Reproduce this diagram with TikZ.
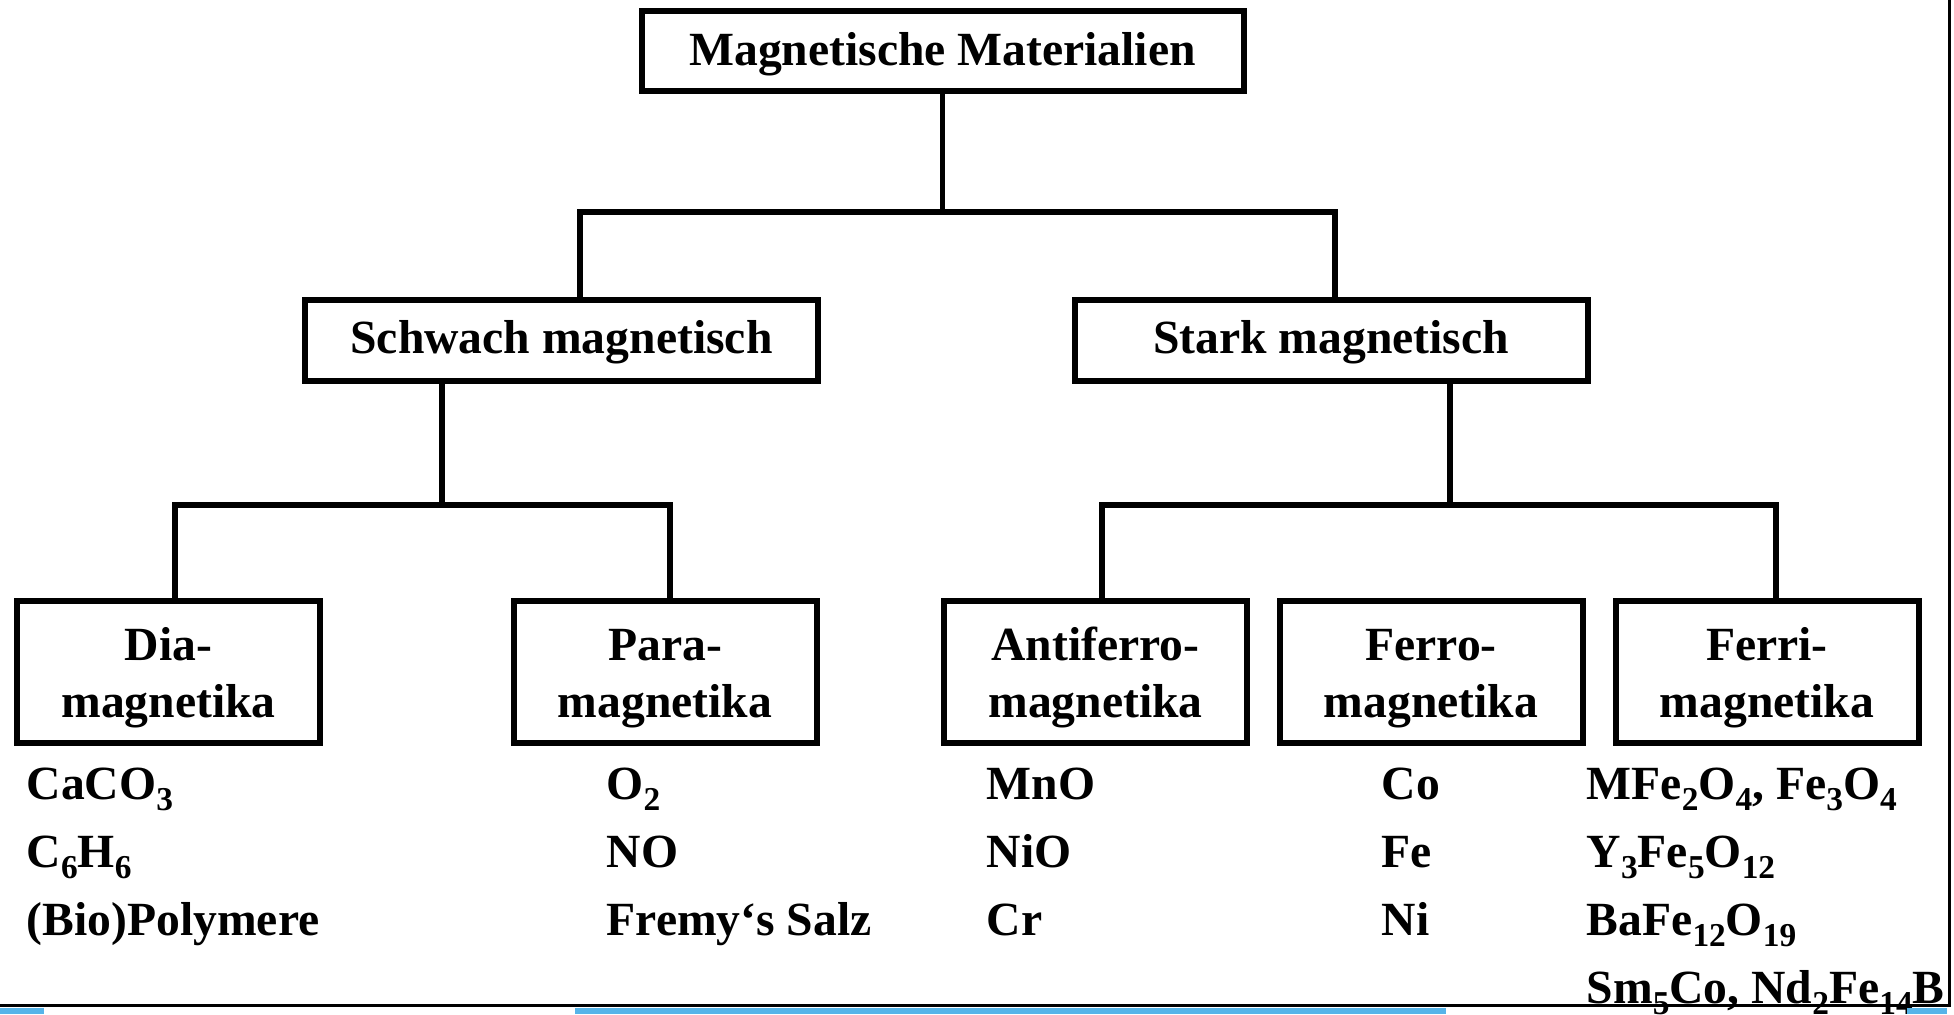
\documentclass[tikz,border=0pt]{standalone}
\usepackage{fontspec}
\setmainfont{Liberation Serif}
\usetikzlibrary{positioning}
\definecolor{stripblue}{RGB}{86,180,233}
\newcommand{\chemsub}[1]{\raisebox{-0.25em}{\fontsize{9.5}{10}\selectfont #1}}
\newcommand{\topstrut}{\rule{0pt}{4.5mm}}

\begin{document}
\begin{tikzpicture}[x=0.1mm,y=-0.1mm,
			box/.style={draw,line width=0.6mm,align=center,inner sep=0pt,font=\fontsize{13.55}{16.2}\selectfont\bfseries},
			topbox/.style={box,minimum width=60.2mm,minimum height=8mm,text height=4.05mm,text depth=1mm},
			midbox/.style={box,minimum width=51.3mm,minimum height=8.1mm,text height=3.75mm,text depth=1mm},
			leafbox/.style={box,minimum width=30.3mm,minimum height=14.2mm},
			item/.style={anchor=base west,inner sep=0pt,font=\fontsize{13.55}{16.2}\selectfont\bfseries},
			conn/.style={line width=0.55mm}]
			
			\useasboundingbox (0,0) rectangle (1954,1014);
			
			\node[topbox] (magmat) at (942.5,50.5) {Magnetische Materialien};
			\node[midbox] (schwach) at (561.5,340) {Schwach magnetisch};
			\node[midbox] (stark) at (1331,340) {Stark magnetisch};
			\node[leafbox] (dia) at (168.5,671.5) {\topstrut Dia-\\magnetika};
			\node[leafbox] (para) at (665,671.5) {\topstrut Para-\\magnetika};
			\node[leafbox] (antiferro) at (1095.5,671.5) {\topstrut Antiferro-\\magnetika};
			\node[leafbox] (ferro) at (1431,671.5) {\topstrut Ferro-\\magnetika};
			\node[leafbox] (ferri) at (1767,671.5) {\topstrut Ferri-\\magnetika};
			
			\coordinate (j0) at (942.5,212);
			\coordinate (j1) at (442,505);
			\coordinate (j2) at (1450,505);
			
			\draw[conn] (magmat) -- (j0);
			\draw[conn] ([xshift=1.85mm]schwach.north) |- (j0) -| ([xshift=0.4mm]stark.north);
			\draw[conn] (schwach.south -| j1) -- (j1);
			\draw[conn] ([xshift=0.65mm]dia.north) |- (j1) -| ([xshift=0.5mm]para.north);
			\draw[conn] (stark.south -| j2) -- (j2);
			\draw[conn] ([xshift=0.65mm]antiferro.north) |- (j2) -| ([xshift=0.9mm]ferri.north);
			
			% examples below each class
			\node[item] (dia1) at (26,799) {CaCO\chemsub{3}};
			\node[item] (dia2) at ([yshift=-6.8mm]dia1.base west) {C\chemsub{6}H\chemsub{6}};
			\node[item] (dia3) at ([yshift=-6.8mm]dia2.base west) {(Bio)Polymere};
			
			\node[item] (para1) at (606,799) {O\chemsub{2}};
			\node[item] (para2) at ([yshift=-6.8mm]para1.base west) {NO};
			\node[item] (para3) at ([yshift=-6.8mm]para2.base west) {Fremy‘s Salz};
			
			\node[item] (afm1) at (986,799) {MnO};
			\node[item] (afm2) at ([yshift=-6.8mm]afm1.base west) {NiO};
			\node[item] (afm3) at ([yshift=-6.8mm]afm2.base west) {Cr};
			
			\node[item] (fm1) at (1381,799) {Co};
			\node[item] (fm2) at ([yshift=-6.8mm]fm1.base west) {Fe};
			\node[item] (fm3) at ([yshift=-6.8mm]fm2.base west) {Ni};
			
			\node[item] (fim1) at (1586,799) {MFe\chemsub{2}O\chemsub{4}, Fe\chemsub{3}O\chemsub{4}};
			\node[item] (fim2) at ([yshift=-6.8mm]fim1.base west) {Y\chemsub{3}Fe\chemsub{5}O\chemsub{12}};
			\node[item] (fim3) at ([yshift=-6.8mm]fim2.base west) {BaFe\chemsub{12}O\chemsub{19}};
			\node[item] (fim4) at ([yshift=-6.8mm]fim3.base west) {Sm\chemsub{5}Co, Nd\chemsub{2}Fe\chemsub{14}B};
			
			% frame and strips at the bottom
			\draw[line width=0.3mm] (0,1005) -- (1949,1005) -- (1949,0);
			\fill[stripblue] (0,1008) rectangle (44,1014);
			\fill[stripblue] (575,1008) rectangle (1446,1014);
			\fill[stripblue] (1907,1008) rectangle (1947,1014);
\end{tikzpicture}
\end{document}
